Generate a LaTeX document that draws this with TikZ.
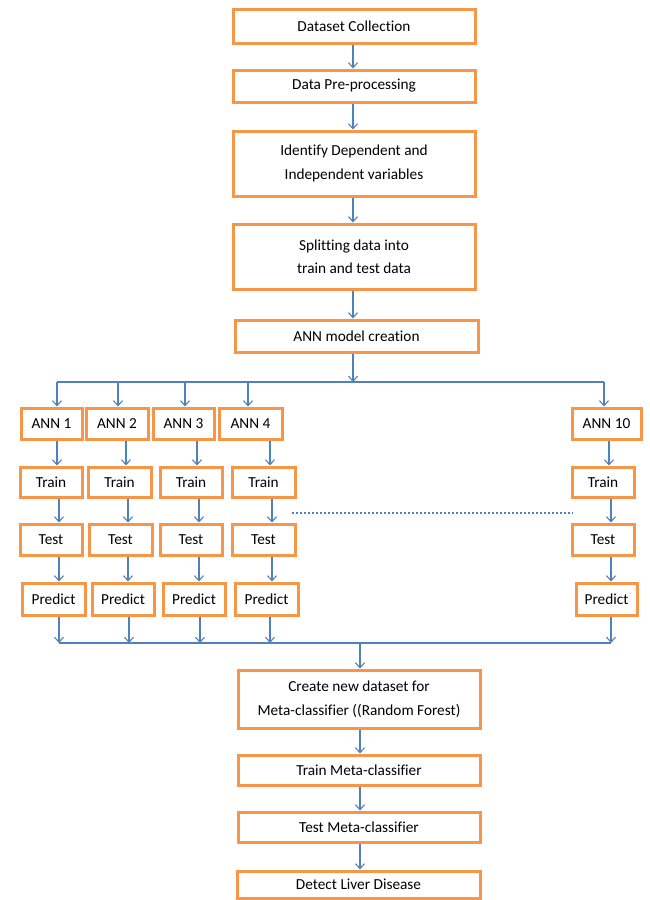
\documentclass[tikz,border=0pt]{standalone}
\usepackage{fontspec}
\setmainfont{Carlito}[Ligatures=NoCommon]
\usetikzlibrary{arrows.meta}
\definecolor{boxorange}{HTML}{F79646}
\definecolor{lineblue}{HTML}{4F81BD}
\tikzset{
  procbox/.style={draw=boxorange, line width=3pt, fill=white, inner sep=0pt,
    align=center, font=\fontsize{15.3}{23.5}\selectfont, text=black},
  arr/.style={draw=lineblue, line width=1.1pt, -{Straight Barb[length=5pt,width=9pt,line width=1.1pt]}},
  bus/.style={draw=lineblue, line width=1.1pt},
  dotline/.style={draw=lineblue, line width=2pt, dash pattern=on 2pt off 2pt}
}
\begin{document}
\begin{tikzpicture}[x=1pt,y=-1pt]
\useasboundingbox (0,0) rectangle (649,900);

% top chain
\node[procbox, minimum width=242pt, minimum height=34pt] (ds) at (354,26) {Dataset Collection};
\node[procbox, minimum width=242pt, minimum height=32pt] (pre) at (354,86) {Data Pre-processing};
\node[procbox, minimum width=242pt, minimum height=65pt] (idv) at (354,163.5) {Identify Dependent and\\Independent variables};
\node[procbox, minimum width=242pt, minimum height=65pt] (spl) at (354,256.5) {Splitting data into\\train and test data};
\node[procbox, minimum width=243pt, minimum height=32pt] (annm) at (356.5,336) {ANN model creation};

\draw[arr] (ds.south -| 353,0) -- (pre.north -| 353,0);
\draw[arr] (pre.south -| 353,0) -- (idv.north -| 353,0);
\draw[arr] (idv.south -| 353,0) -- (spl.north -| 353,0);
\draw[arr] (spl.south -| 353,0) -- (annm.north -| 353,0);

% top bus
\coordinate (busL) at (57,382);
\coordinate (busR) at (604,382);
\coordinate (busM) at (353,382);
\draw[bus] (busL) -- (busR);
\draw[arr] (annm.south -| busM) -- (busM);

% ANN row
\node[procbox, minimum width=61pt, minimum height=31pt] (a1) at (51.5,423.5) {ANN 1};
\node[procbox, minimum width=62pt, minimum height=31pt] (a2) at (117,423.5) {ANN 2};
\node[procbox, minimum width=61pt, minimum height=31pt] (a3) at (183.5,423.5) {ANN 3};
\node[procbox, minimum width=63pt, minimum height=31pt] (a4) at (250.5,423.5) {ANN 4};
\node[procbox, minimum width=69pt, minimum height=31pt] (a10) at (606.5,423.5) {ANN 10};

\draw[arr] (busL) -- (a1.north -| busL);
\draw[arr] (busL -| 118,0) -- (a2.north -| 118,0);
\draw[arr] (busL -| 185,0) -- (a3.north -| 185,0);
\draw[arr] (busL -| 248,0) -- (a4.north -| 248,0);
\draw[arr] (busR) -- (a10.north -| busR);

% Train row
\node[procbox, minimum width=62pt, minimum height=30pt] (tr1) at (51,482) {Train};
\node[procbox, minimum width=63pt, minimum height=30pt] (tr2) at (119.5,482) {Train};
\node[procbox, minimum width=62pt, minimum height=30pt] (tr3) at (191,482) {Train};
\node[procbox, minimum width=63pt, minimum height=30pt] (tr4) at (263.5,482) {Train};
\node[procbox, minimum width=62pt, minimum height=30pt] (tr10) at (603,482) {Train};

\draw[arr] (a1.south -| 57,0) -- (tr1.north -| 57,0);
\draw[arr] (a2.south -| 126,0) -- (tr2.north -| 126,0);
\draw[arr] (a3.south -| 197,0) -- (tr3.north -| 197,0);
\draw[arr] (a4.south -| 270,0) -- (tr4.north -| 270,0);
\draw[arr] (a10.south -| 609,0) -- (tr10.north -| 609,0);

% Test row
\node[procbox, minimum width=62pt, minimum height=31pt] (te1) at (51,539.5) {Test};
\node[procbox, minimum width=63pt, minimum height=31pt] (te2) at (120.5,539.5) {Test};
\node[procbox, minimum width=62pt, minimum height=31pt] (te3) at (191,539.5) {Test};
\node[procbox, minimum width=63pt, minimum height=31pt] (te4) at (263.5,539.5) {Test};
\node[procbox, minimum width=62pt, minimum height=31pt] (te10) at (603,539.5) {Test};

\draw[arr] (tr1.south -| 59,0) -- (te1.north -| 59,0);
\draw[arr] (tr2.south -| 128,0) -- (te2.north -| 128,0);
\draw[arr] (tr3.south -| 199,0) -- (te3.north -| 199,0);
\draw[arr] (tr4.south -| 272,0) -- (te4.north -| 272,0);
\draw[arr] (tr10.south -| 611,0) -- (te10.north -| 611,0);

% dotted line
\coordinate (dotL) at (292,513);
\coordinate (dotR) at (573,513);
\draw[dotline] (dotL) -- (dotR);

% Predict row
\node[procbox, minimum width=63pt, minimum height=32pt] (p1) at (53.5,599) {Predict};
\node[procbox, minimum width=62pt, minimum height=32pt] (p2) at (123,599) {Predict};
\node[procbox, minimum width=62pt, minimum height=32pt] (p3) at (194,599) {Predict};
\node[procbox, minimum width=63pt, minimum height=32pt] (p4) at (266.5,599) {Predict};
\node[procbox, minimum width=61pt, minimum height=32pt] (p10) at (606.5,599) {Predict};

\draw[arr] (te1.south -| 59,0) -- (p1.north -| 59,0);
\draw[arr] (te2.south -| 128,0) -- (p2.north -| 128,0);
\draw[arr] (te3.south -| 199,0) -- (p3.north -| 199,0);
\draw[arr] (te4.south -| 272,0) -- (p4.north -| 272,0);
\draw[arr] (te10.south -| 611,0) -- (p10.north -| 611,0);

% bottom bus
\coordinate (bbL) at (59,643);
\coordinate (bbR) at (611,643);
\coordinate (bbM) at (360,643);
\draw[bus] (bbL) -- (bbR);
\draw[arr] (p1.south -| bbL) -- (bbL);
\draw[arr] (p2.south -| 129,0) -- (bbL -| 129,0);
\draw[arr] (p3.south -| 200,0) -- (bbL -| 200,0);
\draw[arr] (p4.south -| 270,0) -- (bbL -| 270,0);
\draw[arr] (p10.south -| bbR) -- (bbR);

% meta chain
\node[procbox, minimum width=242pt, minimum height=58pt] (cr) at (359,699) {Create new dataset for\\Meta-classifier ((Random Forest)};
\node[procbox, minimum width=242pt, minimum height=30pt] (trm) at (359,770) {Train Meta-classifier};
\node[procbox, minimum width=242pt, minimum height=30pt] (tem) at (359,827) {Test Meta-classifier};
\node[procbox, minimum width=243pt, minimum height=27pt] (det) at (358.5,884.5) {Detect Liver Disease};

\draw[arr] (bbM) -- (cr.north -| bbM);
\draw[arr] (cr.south -| bbM) -- (trm.north -| bbM);
\draw[arr] (trm.south -| bbM) -- (tem.north -| bbM);
\draw[arr] (tem.south -| bbM) -- (det.north -| bbM);
\end{tikzpicture}
\end{document}
